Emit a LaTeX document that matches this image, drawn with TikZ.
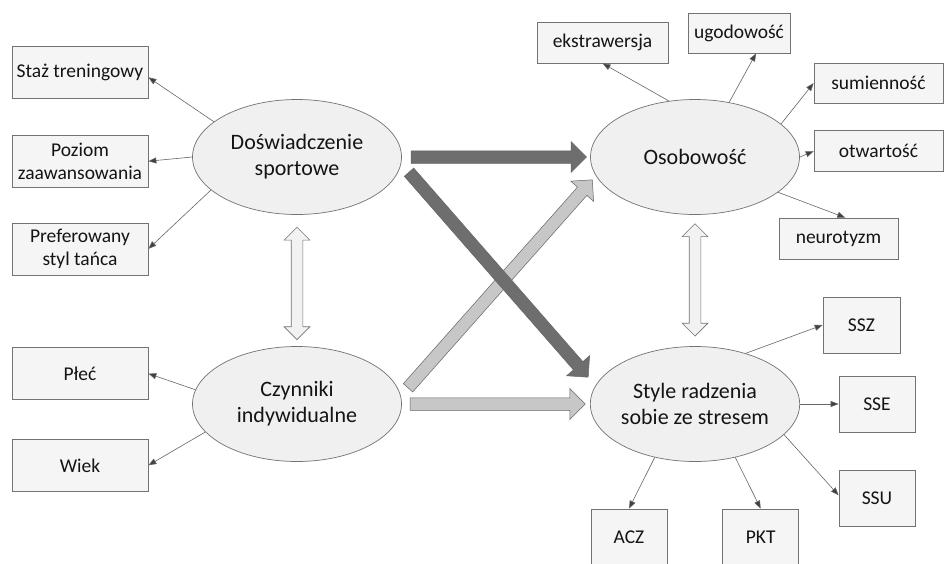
\documentclass[tikz,border=0pt]{standalone}
\usepackage{fontspec}
\setmainfont{Carlito}
\usetikzlibrary{shapes.geometric}
\usetikzlibrary{shapes.arrows}
\usetikzlibrary{positioning}
\usetikzlibrary{calc}
\usetikzlibrary{arrows.meta}
\newcommand*{\BlockArrow}[3]{%
    \path let \p1=($(#3)-(#2)$), \n1={atan2(\y1,\x1)}, \n2={veclen(\x1,\y1)} in
        node[#1, rotate=\n1, minimum height=\n2] at (#2) {};%
}
\tikzset{
    bignode/.style={
        ellipse,draw=black!55,fill=black!6,text=black!92,
        line width=.7pt,
        minimum width=209pt,minimum height=115pt,
        inner sep=0pt,align=center,
        font=\fontsize{22}{26}\selectfont,
        },
    smallnode/.style={
        rectangle,draw=black!55,fill=black!4,text=black!92,
        line width=.7pt,
        inner sep=0pt,align=center,
        font=\fontsize{19.5}{23}\selectfont,
        },
    leftnode/.style={
        smallnode,minimum width=136pt,minimum height=52pt,
        },
    ssnode/.style={
        smallnode,minimum width=76pt,minimum height=56pt,
        },
    thinarrow/.style={
        draw=black!60,line width=.6pt,
        -{Triangle[length=8pt,width=6pt,fill=black!75]},
        },
    blockarrow/.style={
        single arrow,anchor=tail,
        single arrow head extend=9pt,single arrow tip angle=90,
        inner xsep=0pt,inner ysep=6pt,
        fill=#1,draw=black!60,line width=.5pt,
        },
    twowayarrow/.style={
        double arrow,anchor=tip 2,
        double arrow head extend=7pt,double arrow tip angle=90,
        inner xsep=0pt,inner ysep=5.5pt,
        fill=black!5,draw=black!55,line width=.6pt,
        },
}
\begin{document}
\begin{tikzpicture}[x=1pt,y=-1pt]
    \useasboundingbox[fill=white] (0,0) rectangle (946,563);
    % the four ellipses
    \node[bignode] (Dsp) at (297,157) {Doświadczenie\\sportowe};
    \node[bignode] (Czi) at (297,404) {Czynniki\\indywidualne};
    \node[bignode] (Oso) at (695,157) {Osobowość};
    \node[bignode] (Str) at (695,404) {Style radzenia\\sobie ze stresem};
    % left column
    \node[leftnode] (Staz) at (80,72.5) {Staż treningowy};
    \node[leftnode] (Poz) [below=36pt of Staz] {Poziom\\zaawansowania};
    \node[leftnode] (Pref) [below=35pt of Poz] {Preferowany\\styl tańca};
    \node[leftnode] (Plec) [below=72pt of Pref] {Płeć};
    \node[leftnode] (Wiek) [below=39pt of Plec] {Wiek};
    % personality traits
    \node[smallnode,minimum width=131pt,minimum height=41pt] (Ekst) at (602.5,42.5) {ekstrawersja};
    \node[smallnode,minimum width=102pt,minimum height=40pt] (Ugod) at (739,33) {ugodowość};
    \node[smallnode,minimum width=129pt,minimum height=40pt] (Sumi) at (878.5,83) {sumienność};
    \node[smallnode,minimum width=129pt,minimum height=41pt] (Otw) [below=27pt of Sumi] {otwartość};
    \node[smallnode,minimum width=119pt,minimum height=41pt] (Neur) at (838.5,238.5) {neurotyzm};
    % coping styles
    \node[ssnode,minimum width=77pt] (SSZ) at (861.5,325) {SSZ};
    \node[ssnode] (SSE) at (877,404) {SSE};
    \node[ssnode] (SSU) [below=38pt of SSE] {SSU};
    \node[ssnode] (ACZ) at (629,537) {ACZ};
    \node[ssnode] (PKT) [right=55pt of ACZ] {PKT};
    % thin arrows
    \draw[thinarrow] (Dsp.157) -- (Staz.-4);
    \draw[thinarrow] (Dsp.west) -- (Poz.east);
    \draw[thinarrow] (Dsp.201) -- (Pref.east);
    \draw[thinarrow] (Czi.172) -- (Plec.east);
    \draw[thinarrow] (Czi.197) -- (Wiek.east);
    \draw[thinarrow] (Oso.115) -- (Ekst.south);
    \draw[thinarrow] (Oso.58) -- (Ugod.-50);
    \draw[thinarrow] (Oso.21) -- (Sumi.west);
    \draw[thinarrow] (Oso.east) -- (Otw.west);
    \draw[thinarrow] (Oso.-23) -- (Neur.72);
    \draw[thinarrow] (Str.45) -- (SSZ.west);
    \draw[thinarrow] (Str.east) -- (SSE.west);
    \draw[thinarrow] (Str.-19) -- (SSU.175);
    \draw[thinarrow] (Str.233) -- (ACZ.north);
    \draw[thinarrow] (Str.-53) -- (PKT.north);
    % block arrows
    \coordinate (lh1) at ([xshift=8pt]Czi.east);
    \coordinate (lh2) at ([xshift=-5pt]Str.west);
    \coordinate (ld1) at ([shift={(6pt,16pt)}]Czi.east);
    \coordinate (ld2) at ([shift={(2pt,-23pt)}]Oso.west);
    \coordinate (dh1) at ([xshift=9pt]Dsp.east);
    \coordinate (dh2) at ([xshift=-4pt]Oso.west);
    \coordinate (dd1) at ([shift={(7pt,-15pt)}]Dsp.east);
    \coordinate (dd2) at ([shift={(-2pt,27pt)}]Str.west);
    \BlockArrow{blockarrow=black!22}{lh1}{lh2}
    \BlockArrow{blockarrow=black!22}{ld1}{ld2}
    \BlockArrow{blockarrow=black!57}{dh1}{dh2}
    \BlockArrow{blockarrow=black!57}{dd1}{dd2}
    % two-way arrows
    \coordinate (tw1) at ([yshift=-12pt]Dsp.south);
    \coordinate (tw2) at ([yshift=7pt]Czi.north);
    \coordinate (tw3) at ([yshift=-8.5pt]Oso.south);
    \coordinate (tw4) at ([yshift=10.5pt]Str.north);
    \BlockArrow{twowayarrow}{tw1}{tw2}
    \BlockArrow{twowayarrow}{tw3}{tw4}
\end{tikzpicture}
\end{document}
